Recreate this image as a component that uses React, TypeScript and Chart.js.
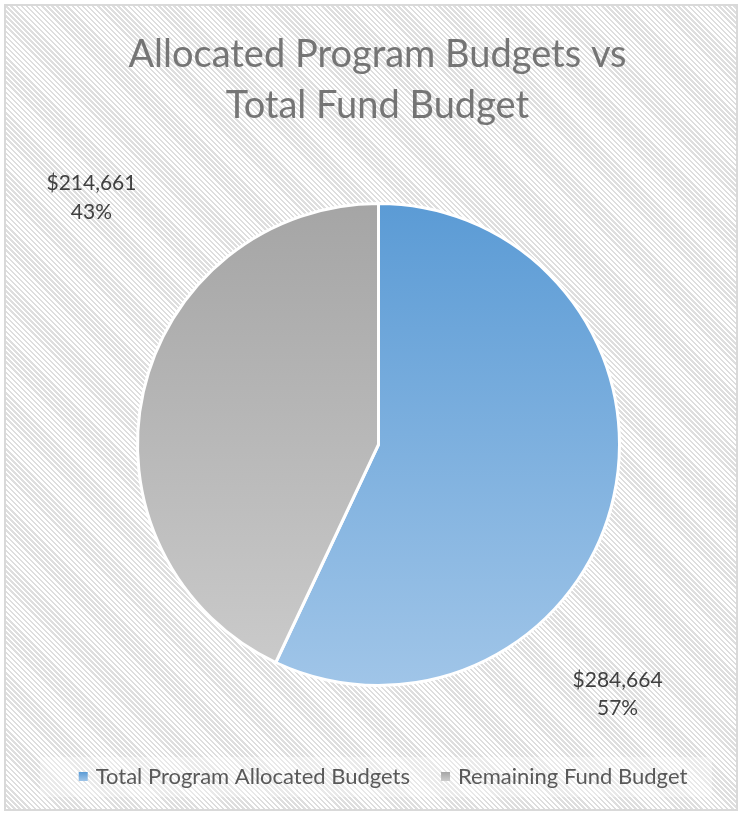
import React, { useEffect, useRef } from "react";
import { Chart, registerables } from "chart.js";
Chart.register(...registerables);

const titleLines = ["Allocated Program Budgets vs", "Total Fund Budget"];
const categories = ["Total Program Allocated Budgets", "Remaining Fund Budget"];
const values = [284664, 214661];
const topColors = ["#5b9bd5", "#a5a5a5"];
const bottomColors = ["#a0c5e8", "#cccccc"];

const FONT = "Lato";

export default function App() {
  const ref = useRef<HTMLCanvasElement>(null);

  useEffect(() => {
    const canvas = ref.current!;
    const total = values.reduce((a, b) => a + b, 0);

    const gradient = (ctx: any) => {
      const i = ctx.dataIndex ?? 0;
      const chart = ctx.chart;
      const area = chart.chartArea;
      if (!area) return topColors[i];
      const g = chart.ctx.createLinearGradient(0, area.top, 0, area.bottom);
      g.addColorStop(0, topColors[i]);
      g.addColorStop(1, bottomColors[i]);
      return g;
    };

    const decor = {
      id: "decor",
      beforeDraw(chart: any) {
        const c = chart.ctx;
        c.save();
        c.fillStyle = "rgba(255,255,255,0.35)";
        c.fillRect(40, 757, 672, 40);
        c.restore();
      },
      afterDraw(chart: any) {
        const c = chart.ctx;
        const arc = chart.getDatasetMeta(0).data[0];
        const { x: cx, y: cy, outerRadius: r } = arc.getProps(["x", "y", "outerRadius"], true);
        c.save();
        c.textBaseline = "alphabetic";
        // title
        c.fillStyle = "#757575";
        c.font = `38px ${FONT}`;
        c.textAlign = "center";
        titleLines.forEach((t, i) => c.fillText(t, cx - 1, 67 + i * 51));
        // data labels (outside, best fit)
        const anchors = [
          [0.992, 1.006],
          [-1.191, -1.056],
        ];
        c.fillStyle = "#404040";
        c.font = `21px ${FONT}`;
        values.forEach((v, i) => {
          const lx = cx + anchors[i][0] * r;
          const ly = cy + anchors[i][1] * r;
          c.fillText("$" + v.toLocaleString("en-US"), lx, ly);
          c.fillText(Math.round((v / total) * 100) + "%", lx, ly + 28.5);
        });
        // legend
        c.font = `22px ${FONT}`;
        c.textAlign = "left";
        const box = 9, gapBox = 8, gapItem = 31;
        const widths = categories.map((t) => c.measureText(t).width);
        const totalW = widths.reduce((a, w) => a + box + gapBox + w, 0) + gapItem * (categories.length - 1);
        let x = cx + 4.5 - totalW / 2;
        const baseY = 784;
        categories.forEach((t, i) => {
          const g = c.createLinearGradient(0, baseY - 12, 0, baseY - 3);
          g.addColorStop(0, topColors[i]);
          g.addColorStop(1, bottomColors[i]);
          c.fillStyle = g;
          c.fillRect(x, baseY - 12, box, box);
          x += box + gapBox;
          c.fillStyle = "#595959";
          c.fillText(t, x, baseY);
          x += widths[i] + gapItem;
        });
        c.restore();
      },
    };

    const chart = new Chart(canvas, {
      type: "pie",
      data: {
        labels: categories,
        datasets: [
          {
            data: values,
            backgroundColor: gradient as any,
            borderColor: "#ffffff",
            borderWidth: 3,
          },
        ],
      },
      options: {
        responsive: false,
        animation: false,
        devicePixelRatio: 1,
        layout: { padding: { left: 136, right: 120, top: 202, bottom: 126 } },
        plugins: {
          legend: { display: false },
          title: { display: false },
          tooltip: { enabled: false },
        },
      },
      plugins: [decor],
    });
    return () => chart.destroy();
  }, []);

  return (
    <div style={{ position: "fixed", left: 0, top: 0, width: 741, height: 813, background: "#ffffff", overflow: "hidden" }}>
      <div
        style={{
          position: "absolute",
          left: 4,
          top: 4,
          width: 734,
          height: 807,
          boxSizing: "border-box",
          border: "2px solid #d9d9d9",
          background:
            "repeating-linear-gradient(45deg, #ffffff 0px, #ffffff 1.8px, #dedede 1.8px, #dedede 3.6px)",
        }}
      />
      <canvas ref={ref} width={741} height={813} style={{ position: "absolute", left: 0, top: 0, width: 741, height: 813 }} />
    </div>
  );
}
